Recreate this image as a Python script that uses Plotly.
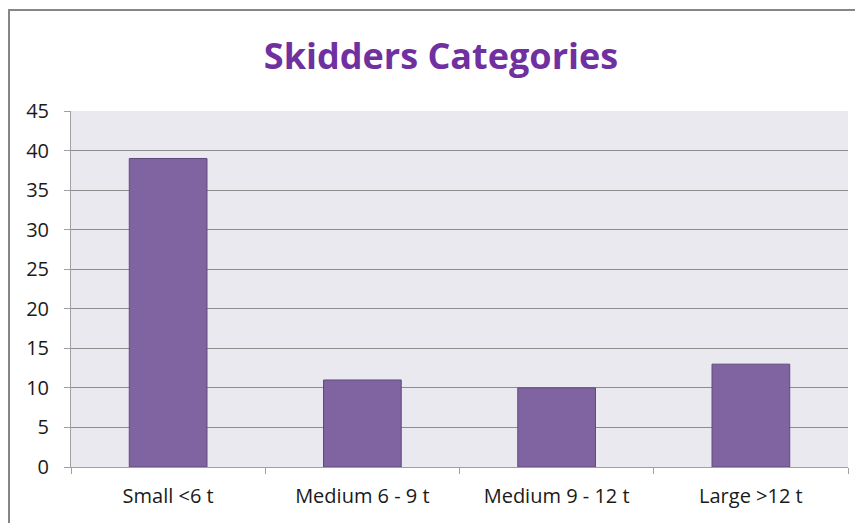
import plotly.graph_objects as go

categories = ["Small <6 t", "Medium 6 - 9 t", "Medium 9 - 12 t", "Large >12 t"]
values = [39, 11, 10, 13]
y_ticks = [0, 5, 10, 15, 20, 25, 30, 35, 40, 45]

# page has an 8px body margin; figure is sized to fill the remaining window
W, H = 855, 515
L, R, T, B = 63, 15, 103, 56

fig = go.Figure()
fig.add_trace(go.Bar(
    x=categories, y=values,
    marker=dict(color="#8064A2", line=dict(color="#5E4A7A", width=1)),
    width=0.40,
))

pw = W - L - R
ph = H - T - B
fig.add_shape(type="rect", xref="paper", yref="paper",
              x0=(1 - L) / pw, x1=(W + 20 - L) / pw, y0=-0.3, y1=(H - B - 2) / ph,
              line=dict(color="#868686", width=2), fillcolor="rgba(0,0,0,0)", layer="below")

font_family = "'Open Sans', Lato, sans-serif"
fig.update_layout(
    width=W, height=H,
    margin=dict(l=L, r=R, t=T, b=B),
    paper_bgcolor="white",
    plot_bgcolor="#EBE9F0",
    showlegend=False,
    title=dict(text="<b>Skidders Categories</b>", x=433 / W, xref="container", xanchor="center",
               y=1 - 48 / H, yref="container", yanchor="middle",
               font=dict(family=font_family, size=36, color="#7030A0")),
    font=dict(family=font_family, size=20, color="#1a1a1a"),
)
fig.update_yaxes(range=[0, 45], tickvals=y_ticks, showgrid=True, gridcolor="#8C8C8C", gridwidth=1,
                 showline=True, linecolor="#A0A0A0", linewidth=1, ticks="outside", ticklen=6,
                 tickcolor="#A0A0A0", zeroline=False, ticklabelstandoff=11)
fig.update_xaxes(showline=True, linecolor="#A0A0A0", linewidth=1, ticks="outside", ticklen=6,
                 tickcolor="#A0A0A0", tickson="boundaries", showgrid=False, ticklabelstandoff=11)

fig.write_html("out.html")
